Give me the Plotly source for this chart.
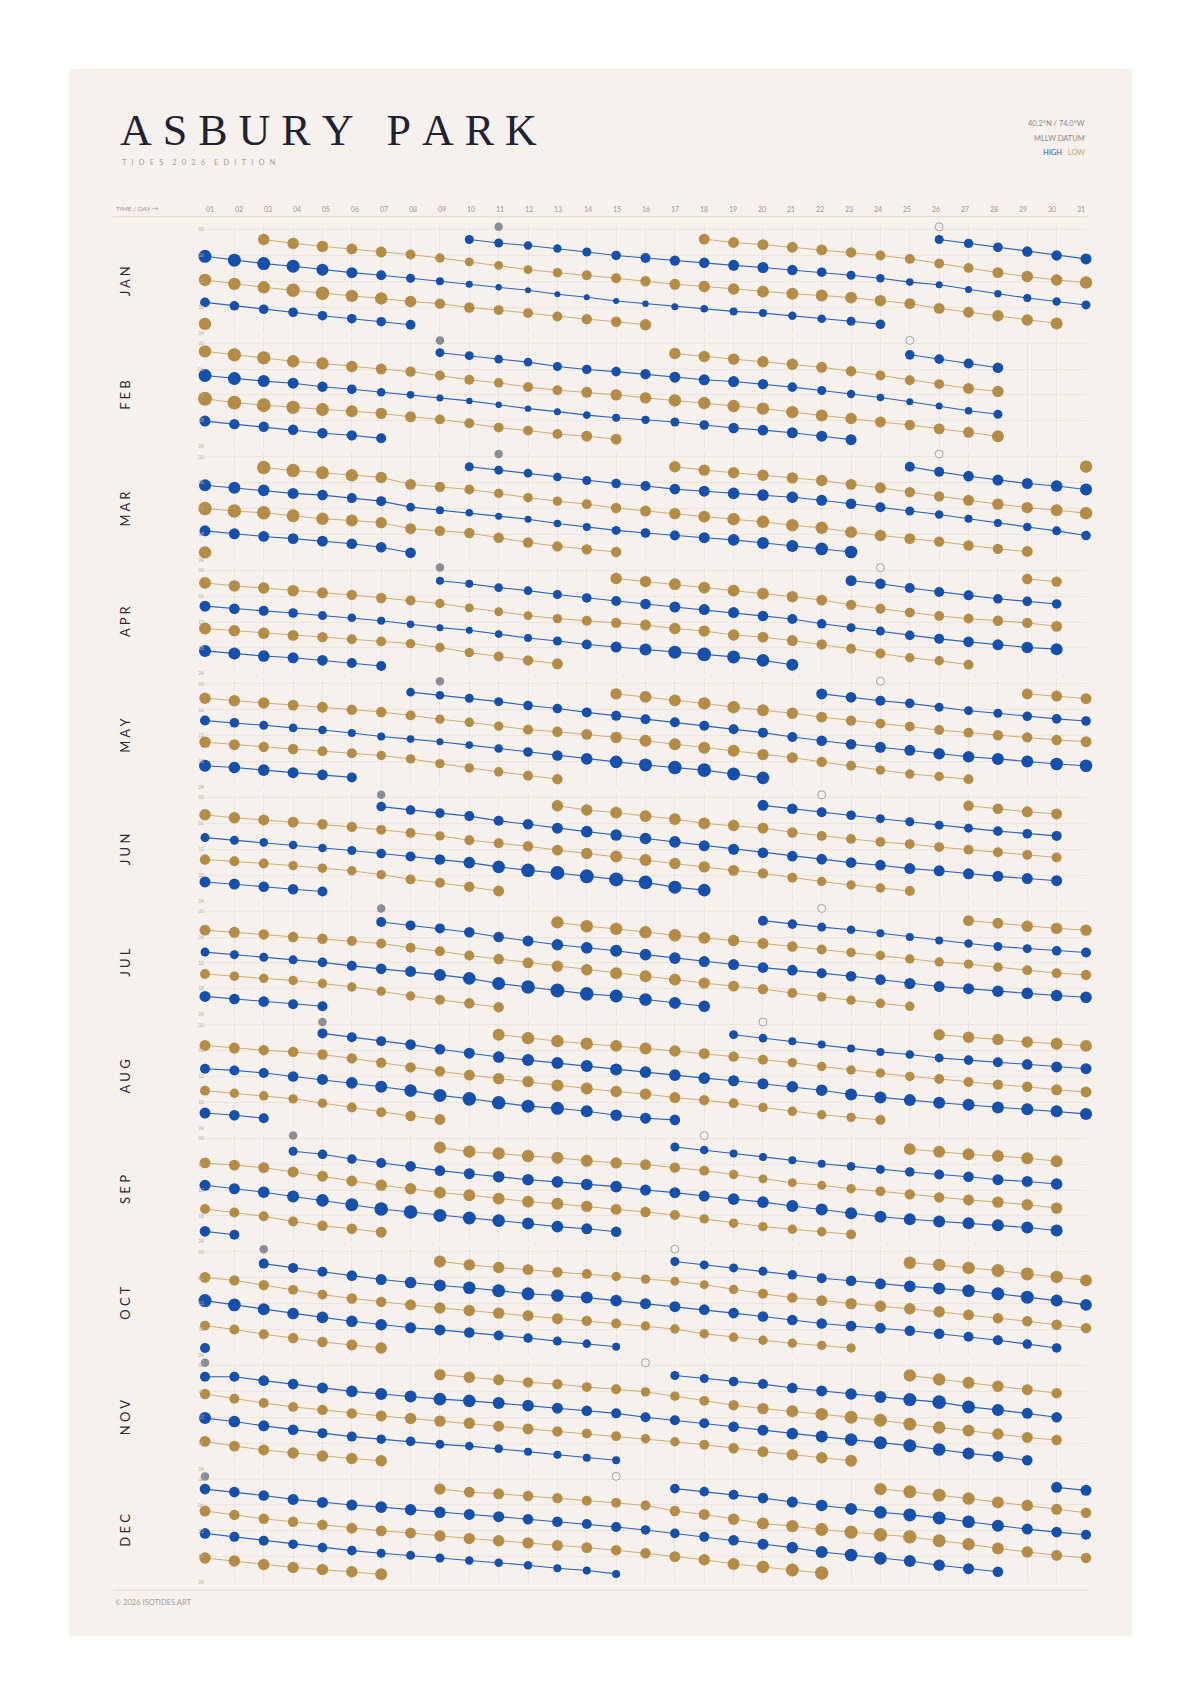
import plotly.graph_objects as go

# ------------------------------------------------------------------ data
MONTHS = ["JAN", "FEB", "MAR", "APR", "MAY", "JUN",
          "JUL", "AUG", "SEP", "OCT", "NOV", "DEC"]
DAY_LABELS = [f"{d:02d}" for d in range(1, 32)]
HOUR_TICKS = [0, 6, 12, 18, 24]
HOUR_LABELS = ["00", "06", "12", "18", "24"]

# each chain: (kind H/L, first day, event times in hours, tide heights in ft)
JAN = [
    ("L", 1, [21.9], [-0.2]),
    ("H", 1, [6.2, 7.1, 7.9, 8.5, 9.3, 10.0, 10.6, 11.3, 12.0, 12.7, 13.4, 14.1, 15.0, 15.7, 16.6, 17.2, 17.9, 18.4, 19.0, 19.4, 20.0, 20.7, 21.3, 22.0],
     [6.0, 6.0, 6.0, 6.0, 5.5, 5.0, 4.5, 4.0, 3.5, 3.0, 2.7, 2.5, 2.5, 2.5, 2.5, 2.7, 3.0, 3.3, 3.5, 3.5, 3.7, 3.8, 4.0, 4.3]),
    ("L", 1, [11.7, 12.6, 13.4, 14.1, 14.8, 15.4, 16.0, 16.7, 17.2, 18.1, 18.7, 19.4, 20.2, 20.8, 21.4, 22.1],
     [-0.2, -0.2, -0.2, -0.4, -0.4, -0.2, -0.2, 0.0, 0.2, 0.2, 0.3, 0.3, 0.3, 0.2, 0.2, 0.0]),
    ("H", 1, [16.9, 17.7, 18.5, 19.2, 20.0, 20.7, 21.4, 22.1], [4.4, 4.3, 4.3, 4.3, 4.3, 4.3, 4.3, 4.4]),
    ("L", 3, [2.3, 3.2, 3.9, 4.5, 5.2, 5.8, 6.6, 7.5, 8.3, 9.3, 10.0, 10.6, 11.3, 12.0, 12.7, 13.2, 13.8, 14.4, 14.9, 15.3, 15.8, 16.5, 17.2, 18.3, 19.2, 20.0, 21.0, 21.8],
     [0.0, 0.0, 0.0, 0.1, 0.1, 0.3, 0.4, 0.5, 0.5, 0.5, 0.4, 0.3, 0.3, 0.2, 0.1, 0.0, 0.0, -0.1, -0.1, -0.1, -0.1, 0.0, 0.1, 0.1, 0.1, 0.0, 0.0, -0.1]),
    ("H", 10, [2.3, 3.1, 3.7, 4.4, 5.2, 6.0, 6.6, 7.2, 7.7, 8.3, 8.8, 9.4, 9.9, 10.6, 11.3, 12.2, 12.8, 13.9, 14.9, 15.9, 16.7, 17.5],
     [4.0, 4.0, 3.7, 3.7, 4.0, 4.3, 4.5, 4.7, 4.7, 5.0, 5.0, 4.7, 4.3, 4.0, 3.7, 3.3, 3.0, 3.0, 3.2, 3.5, 3.7, 4.0]),
    ("L", 18, [2.2, 3.0, 3.5, 4.1, 4.7, 5.3, 6.0, 6.8, 7.9, 8.9, 10.0, 10.9, 11.7, 12.3],
     [0.1, 0.1, 0.1, 0.1, 0.1, 0.2, 0.3, 0.3, 0.3, 0.3, 0.1, 0.0, 0.0, -0.2]),
    ("H", 26, [2.3, 3.2, 4.1, 5.1, 6.0, 6.8], [4.0, 4.2, 4.3, 4.7, 4.7, 5.0]),
]
FEB = [
    ("L", 1, [1.9, 2.7, 3.4, 4.2, 4.7, 5.4, 6.0, 6.6, 7.5, 8.5, 9.2, 10.2, 10.9, 11.4, 12.0, 12.7, 13.3, 13.9, 14.6, 15.2, 16.0, 16.8, 17.5, 18.3, 19.0, 19.9, 20.7, 21.6],
     [-0.2, -0.4, -0.4, -0.2, -0.2, 0.0, 0.1, 0.2, 0.3, 0.3, 0.4, 0.3, 0.3, 0.1, 0.0, 0.0, -0.2, -0.2, -0.2, -0.2, -0.2, -0.1, 0.0, 0.1, 0.2, 0.1, 0.1, -0.1]),
    ("H", 1, [7.5, 8.2, 8.8, 9.3, 10.1, 10.7, 11.4, 12.0, 12.7, 13.4, 14.3, 15.2, 15.9, 16.7, 17.3, 17.8, 18.3, 19.0, 19.7, 20.2, 20.8, 21.6, 22.4],
     [6.0, 6.0, 5.5, 5.0, 4.7, 4.3, 3.8, 3.3, 3.0, 2.7, 2.7, 2.7, 3.0, 3.3, 3.5, 3.7, 4.0, 4.3, 4.7, 4.8, 5.0, 5.0, 5.0]),
    ("L", 1, [12.9, 13.8, 14.4, 14.9, 15.4, 15.8, 16.3, 17.1, 17.7, 18.6, 19.6, 20.3, 21.1, 21.6, 22.3],
     [-0.5, -0.5, -0.5, -0.4, -0.3, -0.1, 0.0, 0.1, 0.3, 0.3, 0.3, 0.3, 0.3, 0.1, 0.1]),
    ("H", 1, [18.1, 18.8, 19.4, 20.1, 20.9, 21.4, 22.1], [5.0, 4.7, 4.7, 4.7, 4.7, 4.7, 4.5]),
    ("H", 9, [2.2, 2.9, 3.7, 4.4, 5.4, 6.1, 6.6, 7.2, 7.9, 8.5, 8.9, 9.5, 10.2, 11.0, 11.8, 12.6, 13.6, 14.6, 15.7, 16.5],
     [4.0, 4.0, 3.8, 3.8, 4.0, 4.3, 4.3, 4.7, 5.0, 5.0, 5.0, 4.7, 4.3, 4.0, 3.7, 3.3, 3.0, 3.0, 3.3, 4.0]),
    ("L", 17, [2.4, 3.1, 3.7, 4.3, 4.9, 5.6, 6.5, 7.5, 8.6, 9.5, 10.5, 11.2],
     [0.0, 0.0, 0.0, 0.0, 0.0, 0.1, 0.2, 0.3, 0.3, 0.3, 0.1, 0.0]),
    ("H", 25, [2.7, 3.7, 4.7, 5.7], [4.3, 4.3, 4.5, 4.8]),
]
MAR = [
    ("L", 1, [22.2], [-0.2]),
    ("H", 1, [6.6, 7.2, 7.8, 8.5, 8.9, 9.6, 10.3, 11.7, 12.4, 13.0, 13.8, 14.5, 15.5, 16.3, 17.1, 17.7, 18.3, 18.8, 19.3, 20.0, 20.7, 21.4, 22.1],
     [5.5, 5.5, 5.3, 5.0, 4.8, 4.5, 4.5, 3.8, 3.5, 3.3, 3.0, 3.0, 3.3, 3.5, 4.0, 4.3, 4.5, 5.0, 5.3, 5.5, 5.5, 5.8, 5.8]),
    ("L", 1, [12.0, 12.6, 13.0, 13.7, 14.4, 14.8, 15.3, 16.7, 17.2, 17.7, 18.8, 19.9, 20.8, 21.5, 22.1],
     [-0.4, -0.4, -0.4, -0.3, -0.2, -0.1, 0.0, 0.1, 0.2, 0.2, 0.2, 0.2, 0.2, 0.2, 0.2]),
    ("H", 1, [17.2, 17.9, 18.5, 19.0, 19.6, 20.2, 21.0, 22.3], [5.0, 5.0, 4.9, 4.9, 4.9, 4.8, 4.8, 4.8]),
    ("L", 3, [2.5, 3.2, 3.7, 4.3, 4.8, 6.4, 7.0, 7.6, 8.5, 9.5, 10.3, 11.0, 11.9, 12.6, 13.2, 13.9, 14.5, 15.1, 15.9, 16.5, 17.5, 18.3, 19.0, 19.7, 20.6, 21.4, 22.0],
     [-0.4, -0.4, -0.3, -0.2, 0.0, 0.1, 0.2, 0.3, 0.4, 0.4, 0.4, 0.3, 0.2, 0.1, 0.0, -0.1, -0.2, -0.2, -0.2, -0.2, -0.1, 0.0, 0.1, 0.2, 0.2, 0.2, 0.1]),
    ("H", 10, [2.3, 3.1, 3.8, 4.7, 5.5, 6.2, 6.8, 7.5, 8.0, 8.5, 8.9, 9.4, 10.1, 10.9, 11.7, 12.6, 13.4, 14.4, 15.4, 16.3, 17.2, 18.3],
     [4.0, 4.0, 3.8, 3.8, 4.0, 4.3, 4.5, 4.8, 5.0, 5.3, 5.3, 5.3, 5.0, 4.8, 4.5, 4.0, 3.8, 3.5, 3.5, 3.8, 4.0, 4.3]),
    ("L", 17, [2.3, 3.1, 3.7, 4.3, 4.9, 5.5, 6.4, 7.2, 8.2, 9.2, 10.1, 11.0, 11.8, 12.4, 13.1],
     [0.0, 0.0, 0.0, 0.0, 0.0, 0.0, 0.1, 0.1, 0.2, 0.2, 0.1, 0.0, 0.0, -0.1, -0.2]),
    ("H", 25, [2.3, 3.5, 4.5, 5.4, 6.2, 6.8, 7.6], [4.5, 4.5, 4.8, 5.0, 5.0, 5.3, 5.5]),
    ("L", 31, [2.3], [-0.2]),
]
APR = [
    ("L", 1, [2.9, 3.6, 4.1, 4.7, 5.2, 5.7, 6.4, 7.0, 7.7, 8.7, 9.6, 10.5, 11.2, 11.7, 12.2, 12.7, 13.5, 14.1, 15.0, 15.5, 16.3, 17.2, 18.2, 19.3, 20.3, 21.0, 21.9],
     [-0.1, 0.0, 0.0, 0.0, 0.1, 0.2, 0.2, 0.3, 0.4, 0.5, 0.5, 0.5, 0.4, 0.3, 0.2, 0.1, 0.0, 0.0, 0.0, 0.1, 0.1, 0.2, 0.3, 0.3, 0.4, 0.4, 0.3]),
    ("H", 1, [8.3, 8.9, 9.4, 9.9, 10.5, 11.0, 11.7, 12.5, 13.3, 13.9, 14.8, 15.7, 16.4, 17.2, 17.8, 18.4, 19.0, 19.5, 20.1, 20.9, 21.9],
     [5.0, 4.8, 4.5, 4.3, 4.0, 3.8, 3.5, 3.3, 3.0, 3.0, 3.3, 3.5, 4.0, 4.5, 5.0, 5.5, 6.0, 6.3, 6.0, 5.8, 5.5]),
    ("L", 1, [13.5, 14.0, 14.6, 15.1, 15.5, 16.0, 16.5, 17.0, 17.9, 19.1, 20.0, 20.9, 21.7],
     [-0.1, 0.0, 0.0, 0.1, 0.2, 0.3, 0.3, 0.4, 0.4, 0.4, 0.3, 0.2, 0.1]),
    ("H", 1, [18.7, 19.3, 19.9, 20.3, 20.9, 21.5, 22.2], [5.5, 5.5, 5.3, 5.0, 4.8, 4.5, 4.5]),
    ("H", 9, [2.4, 3.1, 4.0, 4.7, 5.6, 6.4, 7.1, 7.8, 8.5, 9.1, 9.8, 10.6, 11.3, 12.4, 13.3, 14.1, 15.1, 15.9, 16.6, 17.3, 17.9, 18.3],
     [3.5, 3.5, 3.8, 3.8, 4.0, 4.3, 4.5, 4.8, 5.0, 5.0, 5.0, 4.8, 4.5, 4.3, 4.0, 4.0, 4.3, 4.5, 4.8, 5.0, 5.3, 5.5]),
    ("L", 15, [1.9, 2.6, 3.2, 4.0, 4.7, 5.4, 6.1, 6.9, 8.0, 8.9, 9.8, 10.6, 11.2, 11.7, 12.2, 13.0],
     [0.0, 0.0, -0.1, -0.1, -0.1, -0.1, 0.0, 0.1, 0.2, 0.3, 0.3, 0.3, 0.3, 0.2, 0.2, 0.1]),
    ("H", 23, [2.4, 3.1, 4.1, 5.0, 5.8, 6.6, 7.2, 7.8], [5.0, 4.8, 4.5, 4.5, 4.5, 4.3, 4.3, 4.3]),
    ("L", 29, [2.0, 2.6], [0.2, 0.2]),
]
MAY = [
    ("L", 1, [3.3, 3.9, 4.4, 4.9, 5.4, 6.0, 6.5, 7.3, 8.2, 8.9, 9.8, 10.6, 11.1, 11.7, 12.4, 13.2, 14.0, 14.8, 15.5, 16.4, 17.1, 18.1, 19.0, 20.0, 20.9, 21.5, 22.1],
     [0.0, 0.0, 0.0, 0.1, 0.1, 0.2, 0.2, 0.3, 0.4, 0.4, 0.4, 0.3, 0.2, 0.1, 0.0, -0.1, -0.1, -0.1, -0.1, 0.0, 0.1, 0.2, 0.3, 0.4, 0.4, 0.4, 0.3]),
    ("H", 1, [8.5, 9.0, 9.6, 10.2, 10.7, 11.4, 12.2, 12.8, 13.4, 14.2, 15.0, 15.8, 16.6, 17.4, 18.1, 18.8, 19.4, 20.0, 20.9, 21.8],
     [4.5, 4.3, 4.0, 3.8, 3.8, 3.5, 3.5, 3.3, 3.0, 3.3, 3.8, 4.3, 4.8, 5.3, 5.8, 6.0, 6.3, 6.3, 6.0, 5.8]),
    ("L", 1, [13.5, 14.1, 14.6, 15.1, 15.6, 16.1, 16.6, 17.4, 18.5, 19.5, 20.4, 21.3, 22.1],
     [0.0, 0.1, 0.2, 0.2, 0.3, 0.3, 0.4, 0.4, 0.4, 0.4, 0.4, 0.3, 0.2]),
    ("H", 1, [19.0, 19.4, 20.0, 20.6, 21.1, 21.7], [5.5, 5.3, 5.3, 5.0, 4.8, 4.5]),
    ("H", 8, [1.9, 2.6, 3.3, 4.1, 5.0, 5.7, 6.6, 7.4, 8.2, 8.9, 9.7, 10.5, 11.3, 12.3, 13.2, 14.0, 14.7, 15.4, 16.2, 16.9, 17.4, 18.0, 18.6, 19.0],
     [3.8, 3.8, 4.0, 4.0, 4.3, 4.3, 4.5, 4.5, 4.5, 4.5, 4.5, 4.5, 4.5, 4.5, 4.8, 4.8, 5.0, 5.0, 5.3, 5.3, 5.5, 5.5, 5.8, 5.8]),
    ("L", 15, [2.3, 3.0, 3.8, 4.5, 5.4, 6.1, 6.8, 7.7, 8.5, 9.2, 9.9, 10.7, 11.3, 11.9, 12.4, 13.0, 13.4],
     [0.0, -0.1, -0.1, -0.2, -0.2, -0.1, 0.0, 0.1, 0.2, 0.3, 0.3, 0.3, 0.3, 0.2, 0.2, 0.2, 0.1]),
    ("H", 22, [2.3, 3.1, 3.9, 4.5, 5.4, 6.2, 6.8, 7.5, 8.1, 8.6], [5.0, 4.8, 4.5, 4.3, 4.0, 4.0, 4.0, 4.3, 4.3, 4.3]),
    ("L", 29, [2.3, 2.8, 3.4], [0.1, 0.1, 0.1]),
]
JUN = [
    ("L", 1, [4.0, 4.7, 5.2, 5.7, 6.2, 6.8, 7.5, 8.2, 8.9, 9.9, 10.6, 11.3, 12.2, 13.0, 13.7, 14.5, 15.3, 16.1, 16.9, 17.6, 18.6, 19.5, 20.3, 21.0, 21.7],
     [0.0, 0.0, 0.1, 0.1, 0.2, 0.2, 0.3, 0.3, 0.4, 0.3, 0.3, 0.2, 0.1, 0.0, -0.1, -0.1, 0.0, 0.0, 0.1, 0.2, 0.3, 0.4, 0.4, 0.4, 0.3]),
    ("H", 1, [9.3, 9.9, 10.4, 11.0, 11.7, 12.3, 13.0, 13.7, 14.4, 15.1, 16.1, 16.9, 17.5, 18.3, 19.0, 19.7, 20.8, 21.5],
     [4.0, 4.0, 3.8, 3.8, 3.8, 4.0, 4.3, 4.5, 4.8, 5.3, 5.8, 6.3, 6.5, 6.5, 6.5, 6.3, 6.0, 5.8]),
    ("L", 1, [14.4, 14.8, 15.3, 15.8, 16.4, 17.0, 17.9, 19.0, 19.8, 20.7, 21.7],
     [0.2, 0.3, 0.3, 0.4, 0.4, 0.4, 0.4, 0.3, 0.3, 0.2, 0.1]),
    ("H", 1, [19.6, 20.1, 20.7, 21.3, 21.8], [5.0, 5.0, 4.8, 4.8, 4.5]),
    ("H", 7, [2.1, 2.9, 3.6, 4.3, 5.4, 6.2, 7.1, 7.9, 8.7, 9.5, 10.3, 11.2, 12.0, 12.8, 13.6, 14.3, 15.1, 15.7, 16.5, 17.0, 17.7, 18.3, 18.8, 19.3],
     [4.3, 4.3, 4.3, 4.5, 4.5, 4.8, 5.0, 5.3, 5.3, 5.3, 5.3, 5.0, 5.0, 4.8, 4.8, 4.8, 4.8, 4.8, 5.0, 5.0, 5.0, 5.0, 5.0, 5.0]),
    ("L", 13, [1.9, 2.9, 3.5, 4.3, 5.0, 6.0, 6.5, 7.1, 8.1, 8.9, 9.6, 10.3, 10.8, 11.5, 12.1, 12.7, 13.3, 13.9],
     [0.0, 0.0, -0.1, -0.1, -0.1, -0.1, 0.0, 0.1, 0.2, 0.3, 0.3, 0.3, 0.3, 0.3, 0.3, 0.3, 0.3, 0.3]),
    ("H", 20, [1.8, 2.6, 3.4, 4.1, 4.9, 5.6, 6.4, 7.1, 7.8, 8.4, 8.9], [5.0, 4.8, 4.5, 4.3, 4.0, 4.0, 4.0, 4.0, 4.3, 4.3, 4.5]),
    ("L", 27, [1.9, 2.6, 3.3, 3.8], [0.2, 0.2, 0.1, 0.1]),
]
JUL = [
    ("L", 1, [4.4, 4.9, 5.4, 6.0, 6.4, 6.9, 7.5, 8.5, 9.3, 10.3, 11.1, 12.0, 12.8, 13.6, 14.4, 15.1, 15.9, 16.7, 17.4, 18.1, 19.0, 19.9, 20.7, 21.4, 22.1],
     [0.1, 0.1, 0.2, 0.2, 0.2, 0.3, 0.3, 0.3, 0.3, 0.3, 0.2, 0.1, 0.0, 0.0, -0.1, -0.1, -0.1, 0.0, 0.1, 0.2, 0.3, 0.4, 0.4, 0.4, 0.4]),
    ("H", 1, [9.5, 10.1, 10.7, 11.3, 11.9, 12.7, 13.4, 14.0, 14.8, 15.6, 16.8, 17.6, 18.4, 19.2, 19.7, 20.5, 21.3, 22.1],
     [4.0, 4.0, 4.0, 4.0, 4.3, 4.5, 4.8, 5.0, 5.5, 5.8, 6.0, 6.3, 6.5, 6.3, 6.0, 5.8, 5.5, 5.3]),
    ("L", 1, [14.6, 15.1, 15.6, 16.1, 16.8, 17.6, 18.6, 19.7, 20.6, 21.4, 22.3],
     [0.3, 0.4, 0.4, 0.4, 0.4, 0.4, 0.4, 0.4, 0.3, 0.2, 0.2]),
    ("H", 1, [19.8, 20.4, 21.0, 21.6, 22.1], [5.0, 4.8, 4.8, 4.5, 4.5]),
    ("H", 7, [2.5, 3.3, 4.0, 4.9, 6.0, 6.9, 7.8, 8.5, 9.2, 10.1, 10.9, 11.7, 12.4, 13.1, 13.7, 14.4, 15.1, 15.9, 16.8, 17.5, 18.0, 18.6, 19.1, 19.6, 20.0],
     [4.5, 4.5, 4.5, 4.8, 4.8, 5.0, 5.3, 5.3, 5.5, 5.3, 5.3, 5.0, 5.0, 4.8, 4.8, 4.5, 4.8, 4.8, 5.0, 5.0, 5.0, 5.3, 5.3, 5.3, 5.3]),
    ("L", 13, [2.6, 3.5, 4.1, 4.9, 5.6, 6.2, 6.8, 7.5, 8.2, 8.9, 9.6, 10.3, 11.1, 11.8, 12.3, 13.0, 13.7, 14.4, 14.8],
     [-0.2, -0.2, -0.2, -0.2, -0.2, -0.1, 0.0, 0.1, 0.2, 0.3, 0.4, 0.4, 0.4, 0.4, 0.4, 0.4, 0.3, 0.3, 0.2]),
    ("H", 20, [2.2, 3.0, 3.7, 4.3, 5.1, 6.0, 6.8, 7.5, 8.2, 8.7, 9.2, 9.6], [4.5, 4.3, 4.0, 3.8, 3.5, 3.5, 3.5, 3.8, 4.0, 4.0, 4.3, 4.5]),
    ("L", 27, [2.2, 2.8, 3.5, 4.0, 4.4], [0.1, 0.1, 0.0, 0.0, 0.0]),
]
AUG = [
    ("L", 1, [4.8, 5.4, 5.9, 6.3, 6.9, 7.8, 8.8, 9.9, 10.8, 11.7, 12.5, 13.2, 14.1, 14.8, 15.5, 16.1, 16.9, 17.5, 18.2, 19.2, 20.1, 20.9, 21.5, 22.1],
     [0.1, 0.1, 0.2, 0.2, 0.2, 0.2, 0.2, 0.2, 0.2, 0.1, 0.0, 0.0, -0.1, -0.1, 0.0, 0.0, 0.1, 0.2, 0.3, 0.4, 0.4, 0.4, 0.4, 0.3]),
    ("H", 1, [10.2, 10.6, 11.2, 12.0, 12.7, 13.5, 14.4, 15.3, 16.4, 17.2, 18.1, 18.9, 19.4, 20.1, 21.0, 21.7, 22.1],
     [4.5, 4.5, 4.5, 4.8, 5.0, 5.3, 5.5, 5.8, 6.0, 6.3, 6.3, 6.0, 6.0, 5.5, 5.3, 5.0, 4.8]),
    ("L", 1, [15.3, 15.9, 16.5, 17.2, 18.2, 19.2, 20.3, 21.2, 22.0], [0.3, 0.4, 0.4, 0.4, 0.4, 0.3, 0.3, 0.2, 0.1]),
    ("H", 1, [20.5, 21.0, 21.7], [5.0, 4.8, 4.5]),
    ("H", 5, [2.0, 2.9, 3.8, 4.6, 5.7, 6.6, 7.5, 8.2, 8.9, 9.6, 10.4, 11.0, 11.7, 12.4, 13.0, 13.7, 14.4, 15.2, 16.2, 16.9, 17.5, 18.1, 18.6, 19.2, 19.6, 20.1, 20.7],
     [4.5, 4.5, 4.5, 4.8, 4.8, 5.0, 5.3, 5.5, 5.5, 5.5, 5.5, 5.3, 5.3, 5.3, 5.0, 5.0, 5.3, 5.3, 5.5, 5.5, 5.5, 5.5, 5.5, 5.5, 5.5, 5.5, 5.5]),
    ("L", 11, [2.3, 3.1, 3.8, 4.4, 4.9, 5.5, 6.1, 6.7, 7.4, 8.1, 8.8, 9.7, 10.5, 11.2, 12.0, 12.6, 13.3, 13.9, 14.4, 15.1, 15.6],
     [-0.1, -0.2, -0.2, -0.2, -0.1, -0.1, 0.0, 0.1, 0.2, 0.3, 0.4, 0.4, 0.4, 0.4, 0.4, 0.3, 0.3, 0.2, 0.2, 0.1, 0.1]),
    ("H", 19, [2.3, 3.1, 3.8, 4.6, 5.5, 6.3, 6.9, 7.7, 8.2, 8.7, 9.2, 9.8, 10.2], [4.0, 3.8, 3.5, 3.5, 3.5, 3.5, 3.8, 4.0, 4.3, 4.5, 4.8, 5.0, 5.0]),
    ("L", 26, [2.3, 2.9, 3.4, 4.0, 4.4, 4.9], [0.0, 0.0, 0.0, 0.0, -0.1, -0.1]),
]
SEP = [
    ("L", 1, [5.7, 6.2, 6.8, 7.8, 8.8, 9.9, 10.9, 11.7, 12.6, 13.2, 14.0, 14.7, 15.2, 15.8, 16.5, 17.1, 17.8, 18.7, 19.7, 20.5, 21.1, 21.7, 22.3],
     [0.1, 0.1, 0.1, 0.1, 0.1, 0.1, 0.0, 0.0, -0.1, -0.1, -0.1, -0.1, -0.1, 0.0, 0.1, 0.2, 0.3, 0.4, 0.4, 0.4, 0.4, 0.4, 0.3]),
    ("H", 1, [10.9, 11.7, 12.5, 13.5, 14.4, 15.4, 16.4, 17.1, 17.9, 18.5, 19.1, 19.8, 20.5, 21.0, 21.7],
     [5.0, 5.0, 5.3, 5.5, 5.8, 6.0, 6.3, 6.3, 6.0, 6.0, 5.8, 5.5, 5.3, 5.0, 4.8]),
    ("L", 1, [16.4, 17.2, 18.1, 19.3, 20.3, 21.0, 21.8], [0.3, 0.3, 0.3, 0.3, 0.2, 0.2, 0.1]),
    ("H", 1, [21.6, 22.4], [4.8, 4.5]),
    ("H", 4, [3.0, 3.7, 4.8, 5.7, 6.5, 7.5, 8.2, 8.9, 9.6, 10.1, 10.7, 11.2, 12.0, 12.6, 13.4, 14.1, 14.8, 15.7, 16.5, 17.4, 18.2, 18.8, 19.3, 19.7, 20.2, 20.7, 21.4],
     [4.0, 4.3, 4.3, 4.5, 4.8, 4.8, 5.0, 5.3, 5.3, 5.3, 5.3, 5.3, 5.0, 5.0, 5.0, 5.3, 5.3, 5.5, 5.5, 5.5, 5.5, 5.5, 5.5, 5.5, 5.5, 5.5, 5.5]),
    ("L", 9, [2.1, 3.1, 3.5, 4.1, 4.5, 5.2, 5.7, 6.1, 6.8, 7.5, 8.4, 9.4, 10.3, 10.9, 11.7, 12.3, 13.0, 13.7, 14.3, 14.8, 15.4, 16.2],
     [-0.1, -0.2, -0.2, -0.2, -0.1, -0.1, 0.0, 0.1, 0.2, 0.3, 0.4, 0.5, 0.5, 0.5, 0.4, 0.3, 0.2, 0.2, 0.1, 0.0, 0.0, 0.0]),
    ("H", 17, [2.0, 2.7, 3.5, 4.3, 5.1, 5.9, 6.5, 7.2, 7.8, 8.4, 8.9, 9.6, 10.0, 10.6],
     [4.0, 3.8, 3.5, 3.5, 3.5, 3.5, 3.8, 4.0, 4.3, 4.5, 4.8, 5.0, 5.0, 5.3]),
    ("L", 25, [2.5, 3.1, 3.7, 4.1, 4.6, 5.3], [-0.1, -0.1, -0.1, -0.1, -0.1, -0.1]),
]
OCT = [
    ("L", 1, [5.9, 6.6, 7.7, 8.8, 9.9, 10.8, 11.6, 12.3, 13.0, 13.6, 14.2, 14.8, 15.5, 16.0, 16.6, 17.2, 17.9, 19.0, 19.8, 20.5, 21.2, 21.7, 22.3],
     [0.1, 0.2, 0.2, 0.3, 0.3, 0.2, 0.2, 0.1, 0.0, 0.0, 0.0, 0.1, 0.1, 0.2, 0.3, 0.4, 0.4, 0.4, 0.4, 0.4, 0.4, 0.4, 0.4]),
    ("H", 1, [11.3, 12.3, 13.3, 14.3, 15.2, 16.1, 16.9, 17.6, 18.1, 18.7, 19.4, 20.0, 20.7, 21.3, 22.0],
     [6.0, 5.8, 5.5, 5.3, 5.3, 5.3, 5.3, 5.0, 5.0, 4.8, 4.5, 4.3, 4.0, 3.8, 3.5]),
    ("L", 1, [17.1, 18.0, 19.1, 20.0, 20.9, 21.6, 22.3], [0.3, 0.3, 0.3, 0.2, 0.2, 0.1, 0.0]),
    ("H", 1, [22.3], [4.5]),
    ("H", 3, [2.7, 3.7, 4.6, 5.5, 6.4, 7.1, 7.8, 8.3, 9.0, 9.7, 10.1, 10.6, 11.3, 12.0, 12.7, 13.4, 14.2, 15.0, 15.8, 16.6, 17.2, 17.7, 18.3, 19.0, 19.7, 20.5, 21.4, 22.3],
     [4.5, 4.5, 4.5, 4.8, 5.0, 5.3, 5.5, 5.8, 6.0, 6.0, 5.8, 5.5, 5.3, 5.0, 5.0, 4.8, 4.8, 4.8, 4.8, 4.8, 4.8, 4.8, 4.8, 4.8, 4.5, 4.5, 4.3, 4.3]),
    ("L", 9, [2.2, 3.0, 3.6, 4.1, 4.7, 5.1, 5.7, 6.3, 6.8, 7.6, 8.7, 9.7, 10.6, 11.3, 12.0, 12.6, 13.2, 13.9, 14.6, 15.4, 16.1, 16.9, 17.7],
     [-0.1, 0.0, 0.0, 0.1, 0.2, 0.3, 0.4, 0.4, 0.5, 0.5, 0.4, 0.3, 0.2, 0.1, 0.0, 0.0, 0.0, 0.0, 0.1, 0.2, 0.2, 0.2, 0.2]),
    ("H", 17, [2.2, 3.0, 3.7, 4.5, 5.3, 6.1, 6.7, 7.4, 8.0, 8.5, 9.0, 9.7, 10.5, 11.3, 12.3],
     [4.0, 4.0, 4.0, 4.0, 4.3, 4.5, 4.8, 5.0, 5.3, 5.5, 5.8, 6.0, 6.0, 5.5, 5.3]),
    ("L", 25, [2.5, 3.0, 3.7, 4.3, 5.1, 5.8, 6.6], [-0.2, -0.2, -0.2, -0.3, -0.3, -0.2, -0.1]),
]
NOV = [
    ("H", 1, [2.6, 2.6, 3.5, 4.3, 5.2, 6.0, 6.6, 7.2, 7.8, 8.2, 8.7, 9.3, 9.9, 10.5, 11.1, 12.0, 12.7, 13.4, 14.2, 15.0, 15.8, 16.5, 17.2, 17.9, 18.6, 19.5, 20.4, 21.1, 22.0],
     [4.5, 4.5, 4.8, 4.8, 5.0, 5.3, 5.5, 5.5, 5.8, 5.8, 5.5, 5.3, 5.0, 4.8, 4.5, 4.5, 4.5, 4.5, 4.8, 5.0, 5.3, 5.5, 5.8, 6.0, 6.0, 5.8, 5.5, 5.0, 4.8]),
    ("L", 1, [6.6, 7.7, 8.7, 9.6, 10.3, 11.1, 11.7, 12.3, 12.9, 13.4, 14.1, 14.7, 15.3, 15.8, 16.4, 17.0, 17.7, 18.4, 19.2, 20.0, 20.7, 21.4, 22.1],
     [0.2, 0.3, 0.3, 0.3, 0.2, 0.2, 0.1, 0.0, 0.0, 0.0, 0.1, 0.1, 0.2, 0.3, 0.3, 0.4, 0.4, 0.3, 0.2, 0.1, 0.0, 0.0, -0.1]),
    ("H", 1, [12.2, 13.0, 14.0, 14.9, 15.7, 16.5, 17.1, 17.6, 18.3, 18.7, 19.3, 20.0, 20.7, 21.4, 22.0],
     [5.5, 5.3, 5.0, 4.8, 4.5, 4.5, 4.3, 4.3, 4.0, 3.8, 3.8, 3.5, 3.5, 3.5, 3.5]),
    ("L", 1, [17.6, 18.7, 19.6, 20.3, 21.0, 21.6, 22.1], [0.1, 0.1, 0.1, 0.0, 0.0, 0.0, 0.0]),
    ("L", 9, [2.1, 2.7, 3.3, 3.9, 4.3, 5.0, 5.5, 6.1, 7.1, 8.2, 9.2, 10.0, 10.6, 11.3, 12.0, 12.7, 13.6, 14.4, 15.1, 15.9, 16.7, 17.3],
     [0.0, 0.0, 0.1, 0.2, 0.2, 0.3, 0.3, 0.4, 0.4, 0.3, 0.2, 0.0, -0.1, -0.2, -0.3, -0.3, -0.3, -0.2, -0.1, 0.0, 0.1, 0.2]),
    ("H", 17, [2.3, 3.0, 3.7, 4.3, 5.2, 5.9, 6.6, 7.3, 7.9, 8.5, 9.6, 10.3, 11.1, 12.0],
     [4.0, 4.0, 4.3, 4.5, 4.8, 5.0, 5.3, 5.5, 6.0, 6.3, 6.0, 5.5, 5.0, 4.8]),
    ("L", 25, [2.3, 3.2, 4.0, 4.8, 5.6, 6.4], [-0.2, -0.2, -0.1, 0.0, 0.1, 0.2]),
]
DEC = [
    ("H", 1, [2.3, 3.0, 3.8, 4.7, 5.4, 6.0, 6.5, 7.1, 7.7, 8.2, 8.7, 9.3, 9.9, 10.4, 11.1, 11.8, 12.6, 13.4, 14.2, 15.1, 15.9, 16.9, 17.6, 18.4, 19.0, 20.0, 20.8, 21.5],
     [4.8, 4.8, 4.8, 5.0, 5.0, 5.0, 5.3, 5.3, 5.3, 5.0, 5.0, 4.8, 4.8, 4.5, 4.5, 4.3, 4.3, 4.5, 4.8, 5.0, 5.3, 5.5, 5.8, 5.8, 5.5, 5.3, 5.0, 4.8]),
    ("L", 1, [7.4, 8.3, 9.2, 9.9, 10.6, 11.4, 12.0, 12.5, 13.2, 13.8, 14.3, 14.8, 15.4, 15.9, 16.5, 17.2, 18.0, 18.7, 19.7, 20.4, 21.1, 21.8],
     [0.1, 0.2, 0.2, 0.2, 0.2, 0.1, 0.1, 0.1, 0.0, 0.0, 0.0, 0.0, 0.1, 0.1, 0.2, 0.2, 0.1, 0.0, -0.1, -0.2, -0.3, -0.4]),
    ("H", 1, [12.6, 13.4, 14.3, 15.1, 15.9, 16.6, 17.2, 17.7, 18.3, 18.9, 19.4, 20.0, 20.7, 21.2, 22.0],
     [4.8, 4.5, 4.5, 4.3, 4.3, 4.3, 4.0, 4.0, 4.0, 3.8, 3.8, 3.8, 3.5, 3.5, 3.5]),
    ("L", 1, [18.3, 19.0, 19.8, 20.5, 21.0, 21.5, 22.1], [0.0, 0.0, 0.0, 0.0, 0.0, 0.0, -0.1]),
    ("L", 9, [2.3, 3.0, 3.4, 3.9, 4.4, 5.0, 5.5, 6.1, 7.4, 8.2, 9.3, 10.3, 10.9, 11.7, 12.3, 12.9, 13.4, 14.3, 15.1, 16.1, 16.9, 17.7, 18.3],
     [0.0, 0.1, 0.1, 0.2, 0.2, 0.3, 0.3, 0.3, 0.2, 0.1, 0.0, -0.1, -0.2, -0.3, -0.4, -0.4, -0.4, -0.3, -0.2, -0.1, 0.0, 0.1, 0.2]),
    ("H", 17, [2.2, 2.9, 3.6, 4.4, 5.3, 6.1, 6.9, 7.7, 8.3, 9.0, 9.9, 10.8, 11.6, 12.3, 12.9],
     [4.3, 4.3, 4.5, 4.8, 5.0, 5.3, 5.5, 5.8, 6.0, 6.0, 5.8, 5.5, 5.0, 4.8, 4.5]),
    ("L", 24, [2.3, 2.9, 3.7, 4.5, 5.4, 6.1, 7.0, 7.8], [-0.2, -0.3, -0.3, -0.2, -0.1, 0.0, 0.1, 0.2]),
    ("H", 30, [1.9, 2.6], [5.0, 5.0]),
]
ALL_MONTHS = [JAN, FEB, MAR, APR, MAY, JUN, JUL, AUG, SEP, OCT, NOV, DEC]
MOON_NEW = [11, 9, 11, 9, 9, 7, 7, 5, 4, 3, 1, 1]
MOON_FULL = [26, 25, 26, 24, 24, 22, 22, 20, 18, 17, 16, 15]

TITLE = "ASBURY PARK"
SUBTITLE = "TIDES 2026 EDITION"
COORDS = "40.2°N / 74.0°W"
DATUM = "MLLW DATUM"
FOOTER = "© 2026 ISOTIDES.ART"
HEADER = "TIME / DAY →"

# ------------------------------------------------------------------ style
OFF = 8                      # default page margin around the figure
FW, FH = 1184, 1682          # figure size so that the page is 1200 x 1698
PAGE = "#FFFFFF"
CARD = "#F6F1EC"
GRID = "#ECE5DC"
BLUE = "#1650AD"
GOLD = "#B48C46"
BLUE_LINE = "#2F62B8"
GOLD_LINE = "#CBAE78"
INK = "#1E2233"
MUTED = "#9B968F"
FONT = "Lato, 'Open Sans', sans-serif"

PLOT_L, PLOT_R = 205, 1086
TOP0, STEP, PANEL_H = 230, 113.8, 103.5
PX_PER_H = PANEL_H / 24.0
Y_TOP = -1.1                 # room above 00 for the moon-phase marks
MOON_Y = -0.65


def fx(p):
    return (p - OFF) / FW


def fy(p):
    return 1 - (p - OFF) / FH


def high_size(h):
    return 2.0 * h + 1.0


def low_size(h):
    return 11.4 - 5.0 * h


fig = go.Figure()
layout = {}
annotations = []
shapes = [
    dict(type="rect", xref="paper", yref="paper", x0=fx(69), x1=fx(1132),
         y0=fy(1639), y1=fy(69), fillcolor=CARD, line=dict(width=0), layer="below"),
    dict(type="line", xref="paper", yref="paper", x0=fx(113), x1=fx(1087),
         y0=fy(217), y1=fy(217), line=dict(color="#DFD8CF", width=1), layer="below"),
    dict(type="line", xref="paper", yref="paper", x0=fx(113), x1=fx(1087),
         y0=fy(1593), y1=fy(1593), line=dict(color="#DFD8CF", width=1), layer="below"),
]

for k, (name, chains) in enumerate(zip(MONTHS, ALL_MONTHS)):
    sfx = "" if k == 0 else str(k + 1)
    xa, ya = "x" + sfx, "y" + sfx
    top = TOP0 + STEP * k
    bot = top + PANEL_H
    layout["xaxis" + sfx] = dict(
        domain=[fx(PLOT_L), fx(PLOT_R)], range=[1, 31], anchor=ya,
        showgrid=True, gridcolor=GRID, gridwidth=1, tick0=1, dtick=1,
        showticklabels=False, zeroline=False, showline=False, ticks="",
        fixedrange=True)
    layout["yaxis" + sfx] = dict(
        domain=[fy(bot), fy(top + Y_TOP * PX_PER_H)], range=[24, Y_TOP], anchor=xa,
        tickmode="array", tickvals=HOUR_TICKS, ticktext=HOUR_LABELS,
        tickfont=dict(size=5, color="#B3ACA3", family=FONT),
        showgrid=True, gridcolor=GRID, gridwidth=1, zeroline=False,
        showline=False, ticks="", fixedrange=True)

    for kind, color, lcolor, lw, sz in (("H", BLUE, BLUE_LINE, 1.1, high_size),
                                        ("L", GOLD, GOLD_LINE, 1.0, low_size)):
        xs, ys, ss = [], [], []
        for kd, d0, ts, hs in chains:
            if kd != kind:
                continue
            for i, (t, h) in enumerate(zip(ts, hs)):
                xs.append(d0 + i)
                ys.append(t)
                ss.append(sz(h))
            xs.append(None)
            ys.append(None)
            ss.append(0)
        fig.add_trace(go.Scatter(
            x=xs, y=ys, xaxis=xa, yaxis=ya, mode="lines+markers",
            line=dict(color=lcolor, width=lw),
            marker=dict(size=ss, color=color, opacity=1.0, line=dict(width=0)),
            cliponaxis=False, hoverinfo="skip", showlegend=False,
            connectgaps=False))

    fig.add_trace(go.Scatter(
        x=[MOON_NEW[k]], y=[MOON_Y], xaxis=xa, yaxis=ya, mode="markers",
        marker=dict(size=8.5, color="#898D96", line=dict(width=0)),
        cliponaxis=False, hoverinfo="skip", showlegend=False))
    fig.add_trace(go.Scatter(
        x=[MOON_FULL[k]], y=[MOON_Y], xaxis=xa, yaxis=ya, mode="markers",
        marker=dict(size=8, color=CARD, line=dict(width=1, color="#A3A3A3")),
        cliponaxis=False, hoverinfo="skip", showlegend=False))

    annotations.append(dict(
        xref="paper", yref="paper", x=fx(125), y=fy((top + bot) / 2),
        text=" ".join(name), textangle=-90, showarrow=False,
        xanchor="center", yanchor="middle",
        font=dict(size=13, color="#2A2D38", family=FONT)))

# day labels along the header
for d, lab in enumerate(DAY_LABELS):
    annotations.append(dict(
        xref="paper", yref="paper", x=fx(210 + d * 29.04), y=fy(209),
        text=lab, showarrow=False, xanchor="center", yanchor="middle",
        font=dict(size=7, color=MUTED, family=FONT)))

NB = "\u00a0"
w1, w2 = TITLE.split(" ")
title_txt = NB.join(w1) + NB * 3 + NB.join(w2)
GAP = "\u2002\u2009\u200a"
sub_txt = (GAP + "\u2002").join(GAP.join(w) for w in SUBTITLE.split(" "))

annotations += [
    dict(xref="paper", yref="paper", x=fx(118), y=fy(131), text=title_txt,
         showarrow=False, xanchor="left", yanchor="middle",
         font=dict(size=44, color=INK, family="'Liberation Serif', 'DejaVu Serif', serif")),
    dict(xref="paper", yref="paper", x=fx(120), y=fy(163), text=sub_txt,
         showarrow=False, xanchor="left", yanchor="middle",
         font=dict(size=7.5, color="#A29D97", family=FONT)),
    dict(xref="paper", yref="paper", x=fx(1087), y=fy(124), text=COORDS,
         showarrow=False, xanchor="right", yanchor="middle",
         font=dict(size=7.5, color="#8F8A84", family=FONT)),
    dict(xref="paper", yref="paper", x=fx(1087), y=fy(139), text=DATUM,
         showarrow=False, xanchor="right", yanchor="middle",
         font=dict(size=7.5, color="#8F8A84", family=FONT)),
    dict(xref="paper", yref="paper", x=fx(1087), y=fy(153),
         text=f"<span style='color:#2C5DAE'>HIGH</span>{NB*3}<span style='color:#C8A66A'>LOW</span>",
         showarrow=False, xanchor="right", yanchor="middle",
         font=dict(size=7.5, color="#8F8A84", family=FONT)),
    dict(xref="paper", yref="paper", x=fx(114), y=fy(209), text=HEADER,
         showarrow=False, xanchor="left", yanchor="middle",
         font=dict(size=6.5, color=MUTED, family=FONT)),
    dict(xref="paper", yref="paper", x=fx(113), y=fy(1605), text=FOOTER,
         showarrow=False, xanchor="left", yanchor="middle",
         font=dict(size=7.5, color="#A29D97", family=FONT)),
]

fig.update_layout(
    width=FW, height=FH, autosize=False,
    margin=dict(l=0, r=0, t=0, b=0, pad=0),
    paper_bgcolor=PAGE, plot_bgcolor="rgba(0,0,0,0)",
    shapes=shapes, annotations=annotations, showlegend=False,
    **layout)

fig.write_html("out.html")
